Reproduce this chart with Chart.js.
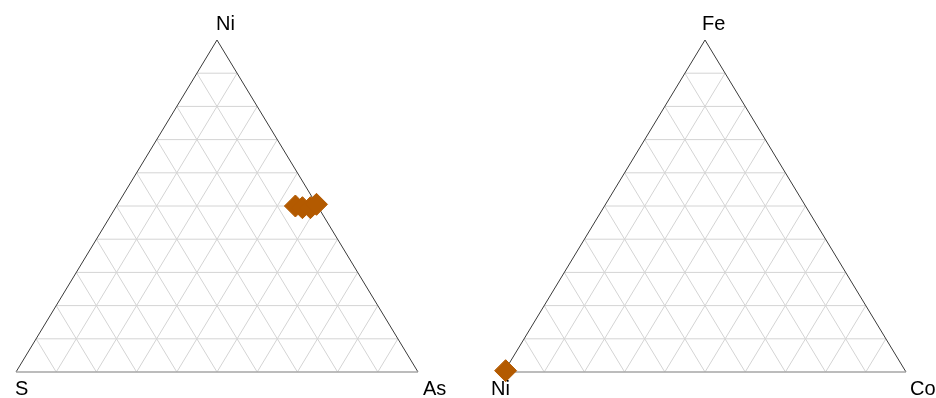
<!DOCTYPE html>
<html>
<head>
<meta charset="utf-8">
<script src="https://cdn.jsdelivr.net/npm/chart.js@4.4.0/dist/chart.umd.min.js"></script>
<style>
  html, body { margin: 0; padding: 0; background: #ffffff; }
  #wrap { position: relative; width: 936px; height: 398px; overflow: hidden; background: #fff; }
  canvas { position: absolute; top: 0; }
  .lbl { position: absolute; font-family: "Liberation Sans", Arial, sans-serif; font-size: 20px; line-height: 20px; color: #000; white-space: nowrap; }
</style>
</head>
<body>
<div id="wrap">
  <canvas id="c1" width="468" height="398" style="left:0px"></canvas>
  <canvas id="c2" width="468" height="398" style="left:468px"></canvas>
  <div class="lbl" style="left:216px; top:13px;">Ni</div>
  <div class="lbl" style="left:15px; top:378px;">S</div>
  <div class="lbl" style="left:423px; top:378px;">As</div>
  <div class="lbl" style="left:702px; top:13px;">Fe</div>
  <div class="lbl" style="left:491px; top:378px;">Ni</div>
  <div class="lbl" style="left:910px; top:378px;">Co</div>
</div>
<script>
// ---- Data (ternary compositions) ----
// Left diagram: S (bottom-left), As (bottom-right), Ni (top)
const leftApexLabels = ["S", "As", "Ni"];
const leftNi = [0.50, 0.495, 0.495, 0.505];
const leftAs = [0.445, 0.465, 0.485, 0.495];
const leftS  = [0.055, 0.04, 0.02, 0.00];

// Right diagram: Ni (bottom-left), Co (bottom-right), Fe (top)
const rightApexLabels = ["Ni", "Co", "Fe"];
const rightFe = [0.004];
const rightCo = [0.002];
const rightNi = [0.994];

// Grid steps (fractions)
const gridSteps = [0.1, 0.2, 0.3, 0.4, 0.5, 0.6, 0.7, 0.8, 0.9];

const markerColor = "#b35a00";
const gridColor = "#d4d4d4";

// ternary -> cartesian (top component, right component, left component)
function tern(top, right, left) {
  const s = top + right + left;
  const t = top / s, r = right / s;
  return { x: r + t / 2, y: t };
}

function lineDs(p1, p2, color, width, order) {
  return {
    type: "line",
    data: [p1, p2],
    borderColor: color,
    borderWidth: width,
    pointRadius: 0,
    fill: false,
    tension: 0,
    clip: false,
    order: order
  };
}

function buildDatasets(topArr, rightArr, leftArr) {
  const ds = [];
  // points
  ds.push({
    type: "scatter",
    data: topArr.map((t, i) => tern(t, rightArr[i], leftArr[i])),
    pointStyle: "rectRot",
    pointRadius: 11,
    pointBackgroundColor: markerColor,
    pointBorderColor: markerColor,
    pointBorderWidth: 1,
    clip: false,
    order: 0
  });
  // grid
  gridSteps.forEach(f => {
    ds.push(lineDs(tern(f, 0, 1 - f), tern(f, 1 - f, 0), gridColor, 1, 2));
    ds.push(lineDs(tern(0, f, 1 - f), tern(1 - f, f, 0), gridColor, 1, 2));
    ds.push(lineDs(tern(0, 1 - f, f), tern(1 - f, 0, f), gridColor, 1, 2));
  });
  // edges
  const L = tern(0, 0, 1), R = tern(0, 1, 0), T = tern(1, 0, 0);
  ds.push(lineDs(L, R, "#a6a6a6", 1.5, 1));
  ds.push(lineDs(L, T, "#3a3a3a", 1, 1));
  ds.push(lineDs(R, T, "#3a3a3a", 1, 1));
  return ds;
}

function makeChart(id, datasets, padding) {
  return new Chart(document.getElementById(id), {
    type: "scatter",
    data: { datasets: datasets },
    options: {
      responsive: false,
      animation: false,
      devicePixelRatio: 1,
      events: [],
      layout: { padding: padding },
      plugins: { legend: { display: false }, tooltip: { enabled: false } },
      scales: {
        x: { type: "linear", min: 0, max: 1, display: false },
        y: { type: "linear", min: 0, max: 1, display: false }
      }
    }
  });
}

makeChart("c1", buildDatasets(leftNi, leftAs, leftS), { left: 16, right: 50, top: 40, bottom: 26 });
makeChart("c2", buildDatasets(rightFe, rightCo, rightNi), { left: 36, right: 30, top: 40, bottom: 26 });
</script>
</body>
</html>
